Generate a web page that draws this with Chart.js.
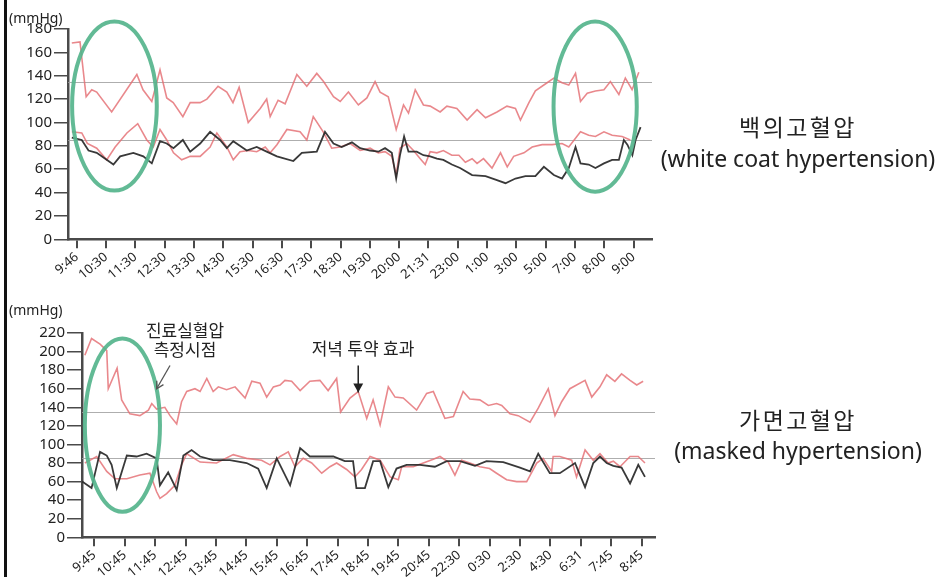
<!DOCTYPE html>
<html><head><meta charset="utf-8">
<script src="https://cdn.jsdelivr.net/npm/chart.js@4"></script>
<style>
body{margin:0;background:#fff;width:940px;height:577px;overflow:hidden;position:relative;font-family:"Noto Sans","Noto Sans CJK KR",sans-serif;color:#222}
.abs{position:absolute;white-space:nowrap}
canvas{position:absolute}
.ko{letter-spacing:2.4px}
</style></head><body>
<div class="abs" style="left:4px;top:0;width:3px;height:577px;background:#111"></div>
<canvas id="c1" width="662" height="285" style="left:0;top:0"></canvas>
<canvas id="c2" width="662" height="287" style="left:0;top:290px"></canvas>
<div class="abs" style="left:9px;top:8px;font-size:14px">(mmHg)</div>
<div class="abs" style="left:9px;top:300px;font-size:14px">(mmHg)</div>
<div class="abs" style="left:648px;width:300px;top:112px;text-align:center;font-size:23px;line-height:31px"><span class="ko">백의고혈압</span><br>(white coat hypertension)</div>
<div class="abs" style="left:648px;width:300px;top:405px;text-align:center;font-size:23px;line-height:30px"><span class="ko">가면고혈압</span><br>(masked hypertension)</div>
<div class="abs" style="left:125px;width:120px;top:321px;text-align:center;font-size:17px;line-height:19px">진료실혈압<br>측정시점</div>
<div class="abs" style="left:298px;width:130px;top:338px;text-align:center;font-size:17px;line-height:21px">저녁 투약 효과</div>
<script>
// ---------- data ----------
const topLabels = ['9:46','10:30','11:30','12:30','13:30','14:30','15:30','16:30','17:30','18:30','19:30','20:00','21:31','23:00','1:00','3:00','5:00','7:00','8:00','9:00'];
const bottomLabels = ['9:45','10:45','11:45','12:45','13:45','14:45','15:45','16:45','17:45','18:45','19:45','20:45','22:30','0:30','2:30','4:30','6:31','7:45','8:45'];

// white coat hypertension (top) — x in tick-index units
const topSysT = [-0.17,0.11,0.32,0.51,0.68,1.19,2.05,2.26,2.56,2.84,3.07,3.29,3.62,3.87,4.21,4.44,4.82,5.12,5.33,5.54,5.85,6.26,6.48,6.60,6.87,7.11,7.51,7.85,8.19,8.42,8.76,8.99,9.27,9.61,9.90,10.18,10.35,10.63,10.90,11.15,11.32,11.55,11.83,12.06,12.40,12.63,12.97,13.32,13.66,13.95,14.34,14.68,14.97,15.14,15.43,15.65,16.05,16.28,16.56,16.79,17.02,17.19,17.42,17.70,17.99,18.21,18.50,18.72,18.95,19.18];
const topSys = [168,169,122,128,126,109,141,128,118,145,121,117,105,117,117,120,131,126,117,130,100,112,120,105,119,116,141,131,142,135,122,118,126,115,121,135,126,122,94,115,108,128,115,114,109,114,112,102,111,104,109,114,112,102,117,127,134,138,134,132,142,118,125,127,128,135,124,138,128,143];
const topDiaT = [-0.17,0.17,0.36,0.68,1.02,1.31,1.71,2.08,2.39,2.61,2.84,3.07,3.30,3.58,3.87,4.21,4.55,4.78,5.12,5.34,5.57,5.86,6.14,6.43,6.60,6.83,7.17,7.62,7.85,8.07,8.41,8.70,8.99,9.33,9.67,10.01,10.29,10.52,10.75,10.90,11.03,11.26,11.49,11.72,11.89,12.06,12.29,12.51,12.80,13.04,13.26,13.49,13.66,13.88,14.17,14.46,14.69,14.91,15.26,15.54,15.88,16.22,16.56,16.79,17.19,17.47,17.70,17.99,18.27,18.61,18.89];
const topDia = [92,91,82,78,68,79,91,99,85,79,94,85,74,68,71,71,79,91,79,68,75,76,75,79,74,81,94,92,85,105,92,78,79,82,76,78,74,75,71,55,78,82,76,69,64,75,74,76,72,72,66,69,65,69,61,74,62,71,74,79,81,81,82,79,92,89,88,92,89,88,85];
const topBlackT = [-0.17,0.17,0.40,0.68,1.02,1.25,1.48,1.93,2.27,2.56,2.84,3.07,3.30,3.62,3.87,4.21,4.55,4.89,5.12,5.34,5.80,6.14,6.48,6.83,7.39,7.68,8.19,8.47,8.76,9.04,9.39,9.67,10.01,10.29,10.52,10.75,10.90,11.03,11.17,11.32,11.60,11.83,12.06,12.29,12.51,12.80,13.08,13.49,13.95,14.29,14.63,14.97,15.31,15.65,15.94,16.28,16.56,16.79,17.02,17.19,17.47,17.70,17.99,18.27,18.50,18.67,18.79,18.96,19.07,19.24];
const topBlack = [87,85,76,74,68,64,71,74,71,65,84,82,78,85,75,82,92,85,78,84,76,79,75,71,67,74,75,92,82,79,83,78,76,75,78,74,52,72,88,75,75,72,71,69,68,64,61,55,54,51,48,52,54,54,62,55,52,61,79,65,64,61,65,68,68,85,81,72,85,96];

// masked hypertension (bottom)
const botSysT = [-0.31,-0.09,0.19,0.41,0.46,0.75,0.90,1.17,1.50,1.78,1.89,2.05,2.32,2.49,2.71,2.87,3.04,3.31,3.48,3.70,3.91,4.08,4.35,4.63,4.96,5.18,5.45,5.67,5.89,6.11,6.27,6.49,6.77,7.09,7.42,7.69,7.97,8.10,8.41,8.68,8.96,9.17,9.40,9.67,9.89,10.16,10.60,10.93,11.15,11.53,11.81,12.13,12.35,12.68,12.96,13.23,13.40,13.67,13.94,14.33,14.60,14.93,15.15,15.37,15.64,16.14,16.36,16.63,16.85,17.12,17.34,17.62,17.84,18.05];
const botSys = [196,214,208,201,160,182,148,133,131,137,144,138,140,131,122,146,157,160,157,171,157,162,159,162,150,168,166,151,162,164,169,168,158,168,169,158,171,135,150,157,128,148,121,162,151,150,137,155,157,128,130,157,149,148,142,144,142,133,131,124,139,160,131,146,160,169,151,162,175,168,176,169,164,168];
const botDiaT = [-0.31,0.08,0.41,0.68,1.07,1.50,1.83,2.05,2.16,2.38,2.65,2.87,3.04,3.48,4.02,4.57,5.01,5.50,5.78,6.11,6.38,6.60,6.87,7.15,7.48,7.75,7.97,8.30,8.57,8.79,9.07,9.40,9.73,10.00,10.11,10.49,10.82,11.15,11.37,11.64,11.86,12.08,12.35,12.68,13.00,13.23,13.56,13.89,14.22,14.55,14.76,15.04,15.09,15.31,15.70,15.86,16.14,16.41,16.63,16.90,17.07,17.29,17.62,17.89,18.11];
const botDia = [80,87,71,63,63,67,69,49,42,47,56,78,90,81,80,89,85,83,78,87,92,76,85,80,69,76,80,73,65,73,87,83,65,62,76,76,80,84,87,81,67,83,80,76,74,69,62,60,60,80,85,71,87,87,83,65,94,83,90,80,82,76,87,87,80];
const botBlackT = [-0.40,-0.09,0.19,0.41,0.57,0.74,1.07,1.39,1.72,2.05,2.16,2.43,2.71,2.93,3.20,3.48,3.91,4.46,5.01,5.39,5.67,6.00,6.44,6.77,7.09,7.42,7.86,8.24,8.51,8.62,8.90,9.17,9.40,9.67,9.94,10.27,10.71,11.20,11.59,12.03,12.52,12.90,13.45,14.00,14.33,14.60,14.98,15.31,15.81,16.14,16.41,16.63,16.85,17.07,17.34,17.62,17.89,18.11];
const botBlack = [60,53,92,88,78,53,88,87,90,85,56,70,51,88,94,87,83,83,80,74,53,85,56,96,87,87,87,82,82,53,53,82,82,54,74,78,78,76,82,82,77,82,81,75,71,90,69,69,80,54,80,87,80,77,75,58,78,65];

const refLines = [135, 85];

// ---------- drawing ----------
Chart.defaults.font.family = '"Noto Sans","Noto Sans CJK KR",sans-serif';
const RED = 'rgba(228,110,115,0.82)';
const BLACK = 'rgba(40,40,40,0.92)';
const GREEN = 'rgba(85,180,140,0.92)';

const overlay = {
  id: 'overlay',
  beforeDatasetsDraw(chart, args, o) {
    const {ctx, chartArea: a, scales: {y}} = chart;
    ctx.save();
    ctx.strokeStyle = 'rgba(160,160,160,0.85)';
    ctx.lineWidth = 1.2;
    (o.lines || []).forEach(v => {
      const py = Math.round(y.getPixelForValue(v)) + 0.5;
      ctx.beginPath(); ctx.moveTo(a.left, py); ctx.lineTo(a.right, py); ctx.stroke();
    });
    ctx.restore();
  },
  afterDatasetsDraw(chart, args, o) {
    const {ctx, scales: {x, y}} = chart;
    ctx.save();
    ctx.strokeStyle = GREEN; ctx.lineWidth = 4;
    (o.ellipses || []).forEach(e => {
      const x0 = x.getPixelForValue(e.x0), x1 = x.getPixelForValue(e.x1);
      const y0 = y.getPixelForValue(e.y0), y1 = y.getPixelForValue(e.y1);
      ctx.beginPath();
      ctx.ellipse((x0 + x1) / 2, (y0 + y1) / 2, Math.abs(x1 - x0) / 2, Math.abs(y1 - y0) / 2, 0, 0, Math.PI * 2);
      ctx.stroke();
    });
    (o.arrows || []).forEach(ar => {
      const sx = x.getPixelForValue(ar.x0), sy = y.getPixelForValue(ar.y0);
      const ex = x.getPixelForValue(ar.x1), ey = y.getPixelForValue(ar.y1);
      const ang = Math.atan2(ey - sy, ex - sx);
      ctx.strokeStyle = ar.color; ctx.fillStyle = ar.color; ctx.lineWidth = ar.w;
      ctx.beginPath(); ctx.moveTo(sx, sy); ctx.lineTo(ex, ey); ctx.stroke();
      const L = ar.head, W = ar.head * 0.55;
      const p1 = [ex - L * Math.cos(ang) + W * Math.sin(ang), ey - L * Math.sin(ang) - W * Math.cos(ang)];
      const p2 = [ex - L * Math.cos(ang) - W * Math.sin(ang), ey - L * Math.sin(ang) + W * Math.cos(ang)];
      ctx.beginPath(); ctx.moveTo(p1[0], p1[1]); ctx.lineTo(ex, ey); ctx.lineTo(p2[0], p2[1]);
      if (ar.filled) { ctx.closePath(); ctx.fill(); } else { ctx.stroke(); }
    });
    ctx.restore();
  }
};

function pts(t, v) { return t.map((tt, i) => ({x: tt, y: v[i]})); }

function makeChart(id, c) {
  return new Chart(document.getElementById(id), {
    type: 'line',
    data: {datasets: [
      {data: pts(c.blackT, c.black), borderColor: BLACK, borderWidth: 1.8},
      {data: pts(c.sysT, c.sys), borderColor: RED, borderWidth: 1.6},
      {data: pts(c.diaT, c.dia), borderColor: RED, borderWidth: 1.6}
    ]},
    options: {
      responsive: false, animation: false, devicePixelRatio: 1,
      layout: {padding: {top: c.padTop, right: c.padRight, left: 0, bottom: 0}},
      elements: {point: {radius: 0}, line: {tension: 0}},
      plugins: {legend: {display: false}, tooltip: {enabled: false},
        overlay: {lines: refLines, ellipses: c.ellipses, arrows: c.arrows}},
      scales: {
        x: {type: 'linear', min: c.xmin, max: c.xmax,
          afterBuildTicks: s => { s.ticks = c.labels.map((_, i) => ({value: i})); },
          afterFit: s => { s.height = c.xh; },
          ticks: {autoSkip: false, maxRotation: 40, minRotation: 40, padding: 1, color: '#222', font: {size: 13},
            callback: (v, i) => c.labels[i]},
          grid: {drawOnChartArea: false, tickLength: 9, color: '#4a4a4a', lineWidth: 2},
          border: {color: '#4a4a4a', width: 2.5}},
        y: {min: 0, max: c.ymax,
          afterFit: s => { s.width = c.yw; },
          ticks: {stepSize: 20, autoSkip: false, padding: 2, color: '#222', font: {size: 15}},
          grid: {drawOnChartArea: false, tickLength: c.yTick, color: '#4a4a4a', lineWidth: 1.5},
          border: {color: '#4a4a4a', width: 2.5}}
      }
    },
    plugins: [overlay]
  });
}

makeChart('c1', {
  labels: topLabels, sysT: topSysT, sys: topSys, diaT: topDiaT, dia: topDia, blackT: topBlackT, black: topBlack,
  xmin: -0.3, xmax: 19.63, ymax: 180, padTop: 29, padRight: 10, xh: 45.7, yw: 68, yTick: 14,
  ellipses: [{x0: -0.16, x1: 2.73, y0: 41.7, y1: 186.5}, {x0: 16.27, x1: 19.11, y0: 40.8, y1: 186.5}],
  arrows: []
});
makeChart('c2', {
  labels: bottomLabels, sysT: botSysT, sys: botSys, diaT: botDiaT, dia: botDia, blackT: botBlackT, black: botBlack,
  xmin: -0.404, xmax: 18.44, ymax: 220, padTop: 43, padRight: 7, xh: 39.7, yw: 82, yTick: 15,
  ellipses: [{x0: -0.31, x1: 2.16, y0: 27.5, y1: 214}],
  arrows: [
    {x0: 2.49, y0: 185, x1: 2.05, y1: 160, color: '#555', w: 1.3, head: 7, filled: false},
    {x0: 8.68, y0: 185, x1: 8.68, y1: 156, color: '#222', w: 1.5, head: 9, filled: true}
  ]
});
</script>
</body></html>
